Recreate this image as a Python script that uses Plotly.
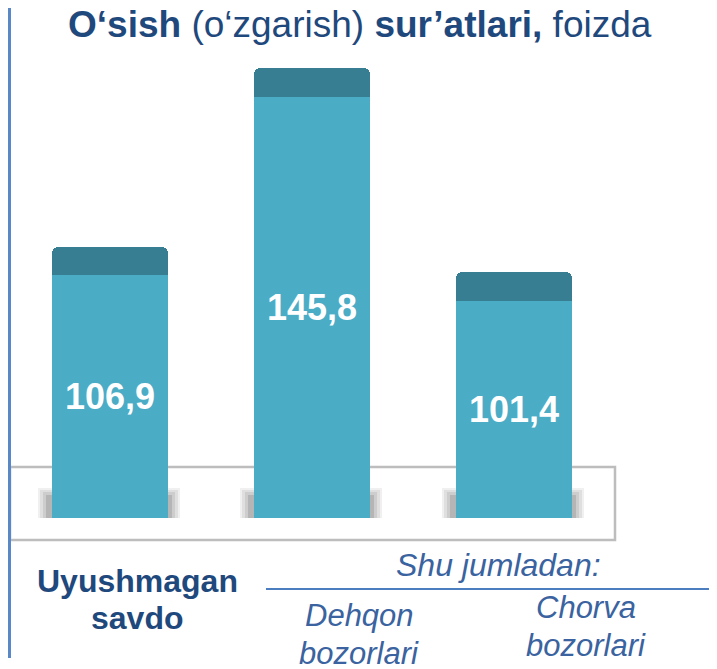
import plotly.graph_objects as go

# ---- data ----
categories = ["Uyushmagan savdo", "Dehqon bozorlari", "Chorva bozorlari"]
values = [106.9, 145.8, 101.4]
value_labels = ["106,9", "145,8", "101,4"]

# ---- layout constants ----
# The page body has an 8px default margin, so the figure is drawn 8px smaller
# and reference pixel positions are shifted by OFF.
OFF = 8
W, H = 717 - OFF, 669 - OFF
# plot area in reference pixels
REF_L, REF_R, REF_T, REF_B = 9, 615, 60, 518
PLOT_L, PLOT_R, PLOT_T, PLOT_B = REF_L - OFF, REF_R - OFF, REF_T - OFF, REF_B - OFF
Y_MIN, Y_MAX = 47.8, 147.5
CAP = 6.3  # height of dark top cap, in axis units

FONT = "Liberation Sans, Arial, sans-serif"
DARK_BLUE = "#1F497D"
ITAL_BLUE = "#3A63A0"
BODY = "#4BACC6"
CAPC = "#387E92"


def pxx(q):
    """reference pixel x -> paper x"""
    return (q - REF_L) / (REF_R - REF_L)


def pxy(p):
    """reference pixel y -> paper y"""
    return (REF_B - p) / (REF_B - REF_T)


xs = list(range(len(categories)))

fig = go.Figure()
# dark cap (full height)
fig.add_trace(go.Bar(
    x=xs, y=[v - Y_MIN for v in values], base=Y_MIN, width=0.57,
    marker=dict(color=CAPC, line=dict(width=0), cornerradius=6),
    hoverinfo="skip", showlegend=False,
))
# lighter body
fig.add_trace(go.Bar(
    x=xs, y=[v - CAP - Y_MIN for v in values], base=Y_MIN, width=0.57,
    marker=dict(color=BODY, line=dict(width=0)),
    text=value_labels, textposition="inside", insidetextanchor="middle",
    textfont=dict(family=FONT, size=36, color="white", weight="bold"),
    textangle=0, constraintext="none",
    hoverinfo="skip", showlegend=False,
))

shapes = []
# floor box
shapes.append(dict(type="rect", xref="paper", yref="paper", layer="below",
                   x0=pxx(10), x1=pxx(615), y0=pxy(540), y1=pxy(467),
                   line=dict(color="#BDBDBD", width=2.5), fillcolor="rgba(0,0,0,0)"))
# soft shadows at bar bases
for i in xs:
    for (a, b, t, op) in [(-72, 70, 30, 0.10), (-70, 68, 28, 0.12), (-67, 65, 26, 0.16), (-64, 62, 23, 0.25)]:
        shapes.append(dict(type="rect", xref="x", yref="paper", layer="below",
                           xsizemode="pixel", xanchor=i, x0=a, x1=b,
                           ysizemode="pixel", yanchor=0, y0=0, y1=t,
                           line=dict(width=0), fillcolor="#6E6E6E", opacity=op))
# left blue rule (reference x 5..11)
shapes.append(dict(type="rect", xref="paper", yref="paper",
                   x0=pxx(5), x1=pxx(11), y0=pxy(0), y1=pxy(658),
                   line=dict(width=0), fillcolor="#5A87C5"))
# line under "Shu jumladan:"
shapes.append(dict(type="line", xref="paper", yref="paper",
                   x0=pxx(266), x1=pxx(720), y0=pxy(589), y1=pxy(589),
                   line=dict(color="#4A7EC0", width=2)))

w0 = categories[0].split(" ")
w1 = categories[1].split(" ")
w2 = categories[2].split(" ")
annotations = [
    dict(text="<b>O‘sish</b> (o‘zgarish) <b>sur’atlari,</b> foizda",
         x=pxx(360), y=pxy(25), font=dict(family=FONT, size=37, color=DARK_BLUE)),
    dict(text="<b>" + w0[0] + "</b>", x=pxx(137), y=pxy(581),
         font=dict(family=FONT, size=32, color=DARK_BLUE)),
    dict(text="<b>" + w0[1] + "</b>", x=pxx(137), y=pxy(618),
         font=dict(family=FONT, size=32, color=DARK_BLUE)),
    dict(text="<i>Shu jumladan:</i>",
         x=pxx(498), y=pxy(565), font=dict(family=FONT, size=32, color=ITAL_BLUE)),
    dict(text="<i>" + w1[0] + "</i>", x=pxx(359), y=pxy(615),
         font=dict(family=FONT, size=31, color=ITAL_BLUE)),
    dict(text="<i>" + w1[1] + "</i>", x=pxx(359), y=pxy(653),
         font=dict(family=FONT, size=31, color=ITAL_BLUE)),
    dict(text="<i>" + w2[0] + "</i>", x=pxx(586), y=pxy(607),
         font=dict(family=FONT, size=31, color=ITAL_BLUE)),
    dict(text="<i>" + w2[1] + "</i>", x=pxx(586), y=pxy(645),
         font=dict(family=FONT, size=31, color=ITAL_BLUE)),
]
for a in annotations:
    a.update(xref="paper", yref="paper", xanchor="center", yanchor="middle",
             showarrow=False)

fig.update_layout(
    width=W, height=H, autosize=False,
    margin=dict(l=PLOT_L, r=W - PLOT_R, t=PLOT_T, b=H - PLOT_B, pad=0),
    paper_bgcolor="white", plot_bgcolor="white",
    barmode="overlay", bargap=0,
    xaxis=dict(range=[-0.5, 2.5], visible=False, fixedrange=True),
    yaxis=dict(range=[Y_MIN, Y_MAX], visible=False, fixedrange=True),
    shapes=shapes, annotations=annotations,
    uniformtext=dict(minsize=36, mode="show"),
)

fig.write_html("out.html")
